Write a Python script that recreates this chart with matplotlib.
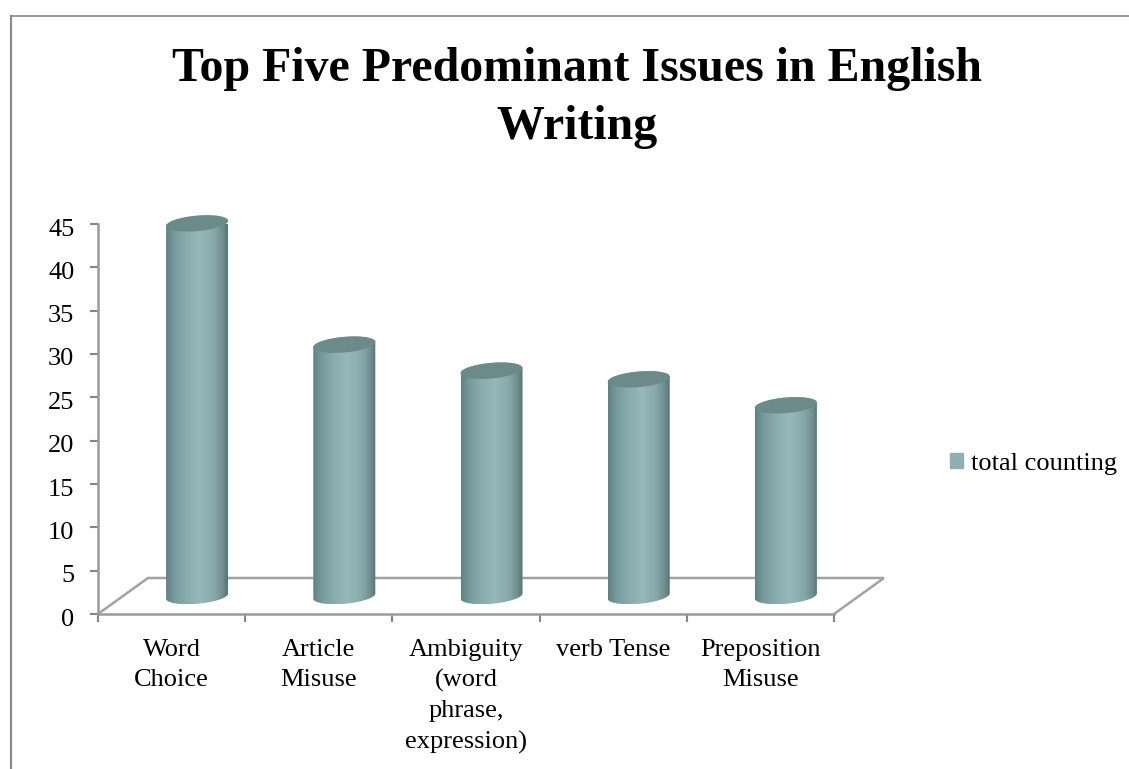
# -*- coding: utf-8 -*-
"""Top five issues, drawn as Excel style 3D cylinders on a flat floor."""
import matplotlib
matplotlib.use("Agg")
import matplotlib.pyplot as plt
import numpy as np
from matplotlib.colors import LinearSegmentedColormap
from matplotlib.lines import Line2D
from matplotlib.patches import Patch, PathPatch, Polygon
from matplotlib.path import Path
from matplotlib.transforms import ScaledTranslation

plt.rcParams["font.family"] = ["Liberation Serif", "DejaVu Serif"]

categories = ["Word\nChoice", "Article\nMisuse", "Ambiguity\n(word\nphrase,\nexpression)",
              "verb Tense", "Preposition\nMisuse"]
counts = [43, 29, 26, 25, 22]
y_ticks = [0, 5, 10, 15, 20, 25, 30, 35, 40, 45]
series_name = "total counting"
title = "Top Five Predominant Issues in English\nWriting"

W, H = 1129, 769
LINE = "#9a9a9a"
TOP = "#6b8b8b"
body_cmap = LinearSegmentedColormap.from_list(
    "cyl", [(0, "#5f8182"), (0.12, "#75989a"), (0.32, "#88abad"), (0.55, "#96b8bb"),
            (0.78, "#87a8aa"), (0.92, "#6f8d8e"), (1, "#587273")])

fig = plt.figure(figsize=(W / 100, H / 100), dpi=100, facecolor="white")
ax = fig.add_axes([98 / W, 1 - 614 / H, (834 - 98) / W, (614 - 224) / H])
xmin, xmax = -0.5, len(counts) - 0.5
ymin, ymax = 0, 45
px_x = (834 - 98) / (xmax - xmin)   # pixels per category
px_y = (614 - 224) / (ymax - ymin)  # pixels per count

# floor depth, bars stand halfway back
dep_x, dep_y = 50 / px_x, 36 / px_y
floor = Polygon([(xmin, 0), (xmin + dep_x, dep_y), (xmax + dep_x, dep_y), (xmax, 0)],
                closed=False, fill=False, edgecolor="#a3a3a3", lw=1.8,
                clip_on=False, zorder=1)
ax.add_patch(floor)


def rim(cx, cy, t):
    # tilted ellipse, right end sits higher than the left one
    return (cx + 31 / px_x * np.cos(t),
            cy + (7.8 * np.sin(t) + 2.6 * np.cos(t)) / px_y)


gradient = np.linspace(0, 1, 256).reshape(1, -1)
for i, v in enumerate(counts):
    cx = i + (dep_x + 1 / px_x) / 2
    cy = dep_y / 2
    t_low = np.linspace(np.pi, 2 * np.pi, 60)
    t_up = np.linspace(0, np.pi, 60)
    xb, yb = rim(cx, cy, t_low)
    xt, yt = rim(cx, cy + v, t_up)
    verts = np.column_stack([np.r_[xb, xt], np.r_[yb, yt]])
    shape = PathPatch(Path(verts), transform=ax.transData, fc="none", ec="none",
                      clip_on=False)
    ax.add_patch(shape)
    im = ax.imshow(gradient, cmap=body_cmap, aspect="auto", zorder=2,
                   extent=(xb.min(), xb.max(), yb.min(), yt.max()))
    im.set_clip_path(shape)
    t_all = np.linspace(0, 2 * np.pi, 120)
    xe, ye = rim(cx, cy + v, t_all)
    ax.fill(xe, ye, color=TOP, lw=0, zorder=3, clip_on=False)

ax.set_xlim(xmin, xmax)
ax.set_ylim(ymin, ymax)
ax.patch.set_alpha(0)
for s in ("top", "right"):
    ax.spines[s].set_visible(False)
for s in ("left", "bottom"):
    ax.spines[s].set_color(LINE)
    ax.spines[s].set_linewidth(1.8)

ax.set_yticks(y_ticks)
ax.set_xticks(np.arange(xmin, xmax + 1))
ax.set_xticklabels([])
ax.set_xticks(range(len(categories)), categories, minor=True, fontsize=19,
              linespacing=1.47, va="top")
ax.tick_params(axis="x", which="minor", length=0, pad=18, labelcolor="black")
ax.tick_params(axis="x", which="major", length=6, width=1.5, color="#868686")
ax.tick_params(axis="y", length=6, width=1.5, color="#868686", labelsize=19, pad=11)
down = ScaledTranslation(0, -3 / 100, fig.dpi_scale_trans)
for lab in ax.get_yticklabels():
    lab.set_transform(lab.get_transform() + down)

fig.text(577 / W, 1 - 98 / H, title, ha="center", va="center", fontsize=34.5,
         fontweight="bold", linespacing=1.41)

fig.legend(handles=[Patch(color="#8fb0b2", label=series_name)], frameon=False,
           loc="center left", bbox_to_anchor=(950 / W, 1 - 464 / H), fontsize=19,
           handlelength=0.48, handleheight=0.5, handletextpad=0.3, borderpad=0,
           borderaxespad=0)

# outer chart frame, cropped on the right and bottom
fig.add_artist(Line2D([11 / W, 11 / W], [0, 1 - 15.5 / H], color="#8a8a8a", lw=1.6))
fig.add_artist(Line2D([11 / W, 1], [1 - 15.5 / H, 1 - 15.5 / H], color="#8a8a8a", lw=1.2))

fig.savefig("out.png", dpi=100, facecolor="white")
